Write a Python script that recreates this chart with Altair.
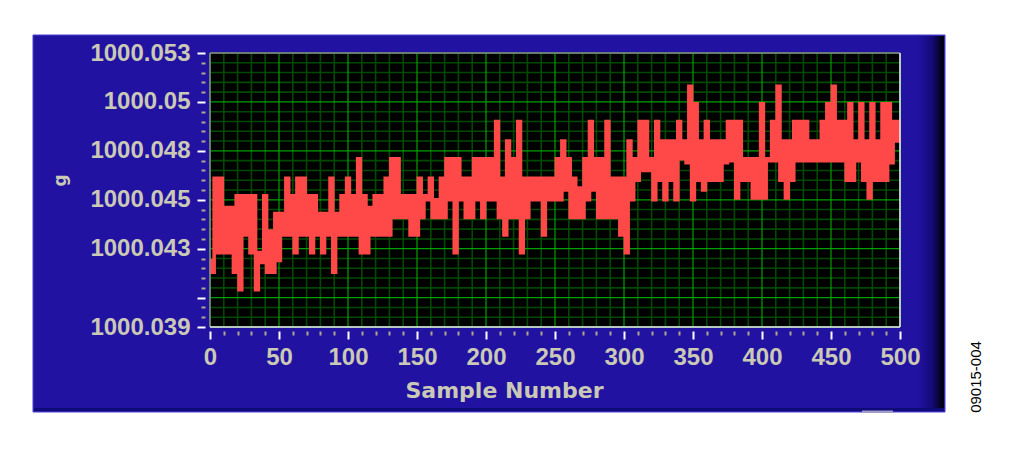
import altair as alt
import pandas as pd

# readings in mg above 1000 g, one value every 2nd sample (0, 2, ... 500)
sample_number = list(range(0, 501, 2))
reading_mg = [
    42.4, 41.8, 46.6, 42.8, 46.6, 42.8, 45.1, 42.8, 45.1, 41.8,
    45.7, 40.9, 45.7, 43.7, 45.7, 42.8, 45.7, 40.9, 42.8, 42.3,
    45.7, 41.8, 43.9, 41.8, 44.8, 42.4, 44.8, 43.7, 46.6, 43.7,
    45.7, 42.8, 46.6, 43.7, 46.6, 43.7, 45.7, 42.8, 45.7, 43.7,
    44.8, 42.8, 44.8, 43.7, 46.6, 41.8, 44.8, 43.7, 45.7, 43.7,
    46.6, 43.7, 45.7, 43.7, 47.6, 42.8, 45.7, 42.8, 45.1, 43.7,
    45.7, 43.7, 45.7, 43.7, 46.6, 43.7, 47.6, 44.6, 47.6, 44.6,
    45.7, 44.6, 45.7, 43.7, 45.7, 43.7, 46.6, 44.6, 45.7, 45.5,
    46.6, 44.6, 45.5, 44.6, 46.6, 44.6, 47.6, 45.5, 47.6, 42.8,
    47.6, 45.5, 46.6, 44.6, 46.6, 44.6, 47.6, 45.5, 47.6, 44.6,
    47.6, 45.5, 47.6, 45.5, 49.5, 44.6, 46.6, 43.7, 48.5, 44.6,
    47.6, 44.6, 49.5, 42.8, 46.6, 44.6, 46.6, 45.5, 46.6, 45.5,
    46.6, 43.7, 46.6, 45.5, 46.6, 45.5, 47.6, 45.5, 48.5, 46.0,
    47.6, 44.6, 46.6, 44.6, 46.1, 44.6, 47.6, 45.5, 49.5, 46.0,
    47.6, 44.6, 47.6, 44.6, 49.5, 44.6, 46.6, 44.6, 46.6, 43.7,
    46.6, 42.8, 48.5, 45.5, 47.6, 46.5, 49.5, 47.0, 49.5, 47.0,
    47.6, 45.5, 49.5, 46.5, 48.5, 45.5, 48.5, 46.5, 48.5, 45.5,
    49.5, 47.6, 48.5, 47.4, 51.3, 45.5, 50.4, 46.5, 48.5, 46.0,
    49.5, 46.5, 48.5, 46.5, 48.5, 46.5, 48.5, 47.4, 49.5, 47.5,
    49.5, 45.6, 49.5, 46.5, 47.6, 46.5, 47.6, 45.6, 47.6, 45.6,
    50.4, 45.6, 47.6, 47.5, 49.5, 47.5, 51.3, 46.5, 48.5, 45.6,
    48.5, 46.5, 49.5, 47.5, 49.5, 47.5, 49.5, 47.5, 48.5, 47.5,
    48.5, 47.5, 49.5, 47.5, 50.4, 47.5, 51.3, 47.5, 49.5, 47.5,
    49.5, 46.5, 50.4, 46.5, 48.5, 47.5, 50.4, 46.5, 48.5, 45.6,
    50.4, 46.5, 48.5, 46.5, 50.4, 46.5, 50.4, 47.4, 49.5, 48.5,
    49.5,
]

y_major = [53, 50.5, 48, 45.5, 43, 40.5, 39]
y_major_labels = ["1000.053", "1000.05", "1000.048", "1000.045", "1000.043", "", "1000.039"]
y_minor = [52.5, 52, 51.5, 51, 50, 49.5, 49, 48.5, 47.5, 47, 46.5, 46,
           45, 44.5, 44, 43.5, 42.5, 42, 41.5, 41, 40, 39.5]
x_major = [0, 50, 100, 150, 200, 250, 300, 350, 400, 450, 500]
x_minor = [v for v in range(0, 501, 10) if v not in x_major]

figure_id = "09015-004"

W, H = 690, 274
PANEL = "#2212a2"
LABEL = "#cac9b6"
BRIGHT = "#00a000"
DARK = "#004a00"
RED = "#ff4848"

df = pd.DataFrame({"sample": sample_number, "mg": reading_mg})
one = pd.DataFrame({"k": [0]})

xs = alt.Scale(domain=[0, 500], nice=False, zero=False)
ys = alt.Scale(domain=[39, 53], nice=False, zero=False)

y_label_expr = " : ".join(
    f"datum.value == {v} ? '{t}'" for v, t in zip(y_major, y_major_labels)
) + " : ''"


def box(x, x2, y, y2, **mark):
    return alt.Chart(one).mark_rect(**mark).encode(
        x=alt.value(x), x2=alt.value(x2), y=alt.value(y), y2=alt.value(y2)
    )


def edge(x, x2, y, y2, color):
    return alt.Chart(one).mark_rule(color=color, strokeWidth=1.5).encode(
        x=alt.value(x), x2=alt.value(x2), y=alt.value(y), y2=alt.value(y2)
    )


# blue instrument panel behind everything
panel = box(-177, 735, -18, 359, fill=PANEL, stroke="#4a40cc", strokeWidth=1)
shade = box(708, 734, -17, 358, fill={
    "gradient": "linear", "x1": 0, "x2": 1, "y1": 0, "y2": 0,
    "stops": [
        {"offset": 0, "color": PANEL},
        {"offset": 0.55, "color": "#140a78"},
        {"offset": 0.92, "color": "#020218"},
        {"offset": 1, "color": "#000010"},
    ],
})
bottom_strip = box(-176, 734, 355, 358, fill="#0e0a78")
tab = box(652, 683, 357.5, 360, fill="#a09ccc")
plot_bg = box(0, W, 0, H, fill="black")

minor_x = alt.Chart(pd.DataFrame({"v": x_minor})).mark_rule(color=DARK, strokeWidth=1.6).encode(
    x=alt.X("v:Q", scale=xs, axis=alt.Axis(
        values=x_minor, orient="bottom", offset=4, tickSize=4, tickWidth=2,
        tickColor="#b0a88c", labels=False, domain=False, grid=False,
        title=None, zindex=1))
)
minor_y = alt.Chart(pd.DataFrame({"v": y_minor})).mark_rule(color=DARK, strokeWidth=1.6).encode(
    y=alt.Y("v:Q", scale=ys, axis=alt.Axis(
        values=y_minor, orient="left", offset=5, tickSize=4, tickWidth=2,
        tickColor="#b0a88c", labels=False, domain=False, grid=False,
        title=None, zindex=1))
)
major_x = alt.Chart(pd.DataFrame({"v": x_major})).mark_rule(color=BRIGHT, strokeWidth=1.2).encode(
    x=alt.X("v:Q", scale=xs, axis=alt.Axis(
        values=x_major, orient="bottom", offset=4, tickSize=8, tickWidth=2,
        tickColor="white", domain=False, grid=False, format="d",
        labelFont="Liberation Sans", labelFontSize=24, labelFontWeight="bold",
        labelColor=LABEL, labelPadding=6, labelFlush=False, labelOverlap=False,
        title="Sample Number", titleFont="DejaVu Sans", titleFontSize=22,
        titleFontWeight="bold", titleColor=LABEL, titleX=294, titleY=66,
        titleAlign="center", titleBaseline="alphabetic", zindex=1))
)
major_y = alt.Chart(pd.DataFrame({"v": y_major})).mark_rule(color=BRIGHT, strokeWidth=1.2).encode(
    y=alt.Y("v:Q", scale=ys, axis=alt.Axis(
        values=y_major, orient="left", offset=5, tickSize=8, tickWidth=2,
        tickColor="white", domain=False, grid=False, labelExpr=y_label_expr,
        labelFont="Liberation Sans", labelFontSize=24, labelFontWeight="bold",
        labelColor=LABEL, labelPadding=7, labelFlush=False, labelOverlap=False,
        title="g", titleFont="DejaVu Sans", titleFontSize=17,
        titleFontWeight="bold", titleColor=LABEL, titleX=-145, titleY=127,
        titleAngle=270, titleAlign="center", titleBaseline="middle", zindex=1))
)

trace = alt.Chart(df).mark_line(
    interpolate="step", color=RED, strokeWidth=3.6, strokeJoin="miter", strokeCap="butt"
).encode(
    x=alt.X("sample:Q", scale=xs, axis=None),
    y=alt.Y("mg:Q", scale=ys, axis=None),
)

frame = alt.layer(
    edge(0, W, 0, 0, "#8a8a8a"),
    edge(0, 0, 0, H, "#8a8a8a"),
    edge(0, W, H, H, "#f0f0f0"),
    edge(W, W, 0, H, "#f0f0f0"),
)

fig_label = alt.Chart(pd.DataFrame({"label": [figure_id]})).mark_text(
    angle=270, font="Liberation Sans", fontSize=15, color="black",
    align="center", baseline="middle"
).encode(x=alt.value(766), y=alt.value(324), text="label:N")

chart = alt.layer(
    panel, shade, bottom_strip, tab, plot_bg,
    minor_x, minor_y, major_x, major_y,
    trace, frame, fig_label,
).resolve_axis(
    x="independent", y="independent"
).properties(
    width=W, height=H,
    padding={"left": 202, "top": 45, "right": 116, "bottom": 115},
    autosize=alt.AutoSizeParams(type="none"),
).configure(
    background="white"
).configure_view(
    strokeWidth=0
)

chart.save("out.html", embed_options={"renderer": "svg", "actions": False})
